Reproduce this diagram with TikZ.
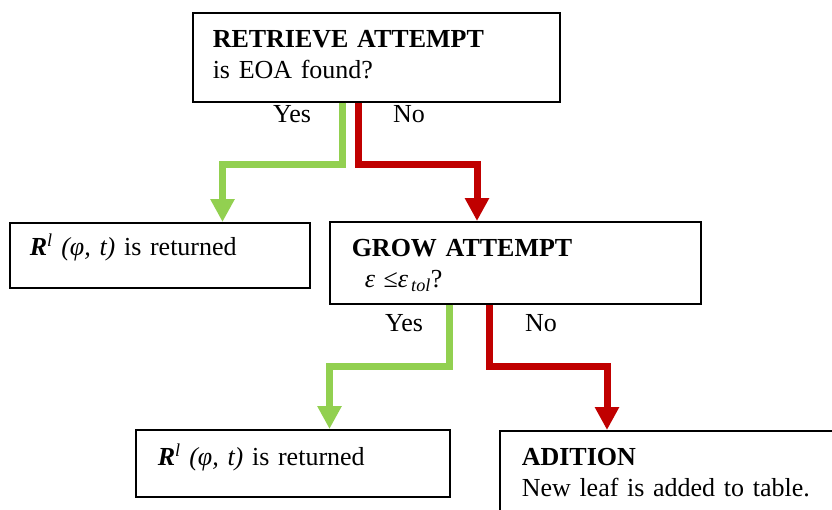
\documentclass[tikz,border=0pt]{standalone}
\usepackage{fontspec}
\setmainfont{Liberation Serif}
\usetikzlibrary{arrows.meta}
\definecolor{yesgreen}{RGB}{146,208,80}
\definecolor{nored}{RGB}{192,0,0}

\begin{document}
\begin{tikzpicture}[x=1pt, y=-1pt, font=\fontsize{26}{31}\selectfont,
        box/.style={draw, line width=1.5pt, anchor=north west, align=left, inner ysep=0pt},
        yesline/.style={draw=yesgreen, line width=7pt, -{Triangle[width=23pt,length=23pt]}},
        noline/.style={draw=nored, line width=7pt, -{Triangle[width=23pt,length=23pt]}},
        lbl/.style={anchor=base west, inner sep=0pt}]

        % Page frame (the last box runs off the page)
        \clip (0,0) rectangle (832,509);

        % Retrieve attempt box
        \node[box, inner xsep=20pt, text width=327pt, text height=35pt, text depth=54pt] (retr) at (192,12)
            {\textbf{RETRIEVE ATTEMPT}\\is EOA found?};

        % First level boxes
        \node[box, inner xsep=20pt, text width=260pt, text height=33pt, text depth=32pt] (ret1) at (9,222)
            {\textbf{\textit{R}}\textsuperscript{\textit{l}} \textit{(φ, t)} is returned};
        \node[box, inner xsep=22pt, text width=327pt, text height=35pt, text depth=47pt] (grow) at (329,221)
            {\textbf{GROW ATTEMPT}\\\hspace*{13pt}\textit{ε} ≤\textit{ε}\textsubscript{\,\textit{tol}}?};

        % Second level boxes
        \node[box, inner xsep=22pt, text width=270pt, text height=36pt, text depth=31pt] (ret2) at (135,429)
            {\textbf{\textit{R}}\textsuperscript{\textit{l}} \textit{(φ, t)} is returned};
        \node[box, inner xsep=22pt, text width=356pt, text height=35pt, text depth=65pt] (add) at (499,430)
            {\textbf{ADITION}\\New leaf is added to table.};

        % Branches out of the retrieve attempt
        \draw[yesline] (342.5,0 |- retr.south) -- (342.5,164) -- (222.5,164) -- (ret1.north -| 222.5,0);
        \draw[noline] (358.5,0 |- retr.south) -- (358.5,164) -- (477,164) -- (grow.north -| 477,0);
        \node[lbl] (yes1) at (273,122) {Yes};
        \node[lbl] (no1) at (393,122) {No};

        % Branches out of the grow attempt
        \draw[yesline] (449.5,0 |- grow.south) -- (449.5,366.5) -- (329.5,366.5) -- (ret2.north -| 329.5,0);
        \draw[noline] (489,0 |- grow.south) -- (489,366.5) -- (607,366.5) -- (add.north -| 607,0);
        \node[lbl] (yes2) at (385,331) {Yes};
        \node[lbl] (no2) at (525,331) {No};

    \end{tikzpicture}
\end{document}
